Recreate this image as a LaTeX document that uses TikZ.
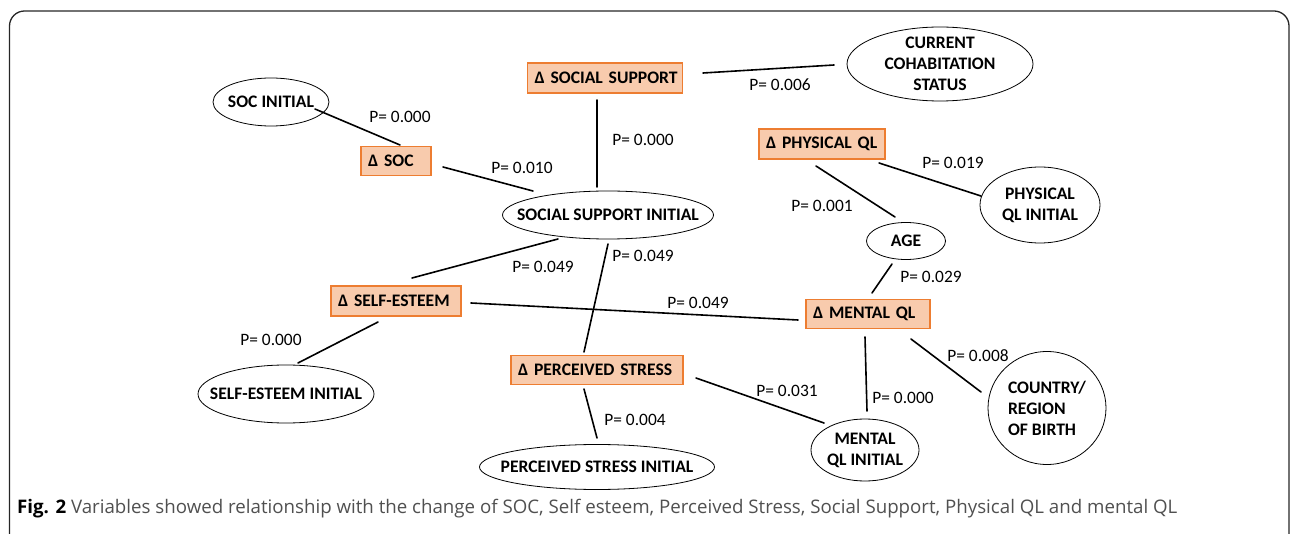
\documentclass[tikz,border=0pt]{standalone}
\usepackage{fontspec}
\setmainfont{Carlito}
\newfontfamily\capfont{Open Sans}
\usetikzlibrary{shapes.geometric,calc}
\definecolor{boxfill}{HTML}{F8CBAD}
\definecolor{boxline}{HTML}{ED7D31}
\definecolor{capgray}{HTML}{505050}
\tikzset{
  varbox/.style={draw=boxline, fill=boxfill, line width=1.6pt, inner xsep=7pt, inner ysep=0pt,
     minimum height=#1, font=\fontsize{17.6}{21}\selectfont\bfseries, anchor=center, align=left},
  varell/.style={ellipse, draw, line width=0.8pt, inner xsep=-40pt, inner ysep=-15pt, align=center,
     font=\fontsize{17.6}{21}\selectfont\bfseries},
  link/.style={line width=1.6pt, line cap=round},
  plab/.style={font=\fontsize{17.4}{21}\selectfont, inner sep=0pt}
}
\begin{document}
\begin{tikzpicture}[x=1pt,y=-1pt]
\useasboundingbox (0,0) rectangle (1290,534);
\begin{scope}
\clip (0,0) rectangle (1290,534);
\draw[line width=1.3pt, color=black!85] (9.5,11) [rounded corners=15pt] rectangle (1289,560);
\end{scope}
% rectangular variables
\node[varbox=29pt, text width=56pt] (dsoc) at (396,161) {\mbox{Δ SOC}};
\node[varbox=30pt, text width=141pt] (dss) at (605,78) {\mbox{Δ SOCIAL SUPPORT}};
\node[varbox=30pt, text width=112pt] (dpql) at (822,144) {\mbox{Δ PHYSICAL QL}};
\node[varbox=30pt, text width=116pt] (dse) at (396,301) {\mbox{Δ SELF-ESTEEM}};
\node[varbox=29pt, text width=110pt] (dmql) at (868,314) {\mbox{Δ MENTAL QL}};
\node[varbox=29pt, text width=158pt] (dps) at (597,370) {\mbox{Δ PERCEIVED STRESS}};
% elliptical variables
\node[varell, minimum width=116pt, minimum height=48pt] (soci) at (271,102) {SOC INITIAL};
\node[varell, minimum width=186pt, minimum height=74pt] (cohab) at (940,64) {CURRENT\\COHABITATION\\STATUS};
\node[varell, minimum width=120pt, minimum height=76pt] (pqli) at (1040,205) {PHYSICAL\\QL INITIAL};
\node[varell, minimum width=79pt, minimum height=37pt] (age) at (906,241) {AGE};
\node[varell, minimum width=211pt, minimum height=48pt] (ssi) at (608,215) {SOCIAL SUPPORT INITIAL};
\node[varell, minimum width=176pt, minimum height=58pt] (sei) at (286,394) {SELF-ESTEEM INITIAL};
\node[varell, minimum width=235pt, minimum height=45pt] (psi) at (597,467) {PERCEIVED STRESS INITIAL};
\node[varell, minimum width=108pt, minimum height=62pt] (mqli) at (865,450) {MENTAL\\QL INITIAL};
\node[varell, minimum width=118pt, minimum height=113pt, align=left] (country) at (1047,408) {COUNTRY/\\REGION\\OF BIRTH};
% connectors
\draw[link] ($(soci)+(44,7)$) -- ($(dsoc)+(4,-16)$);
\draw[link] ($(dsoc)+(47,6)$) -- ($(ssi)+(-75,-24)$);
\draw[link] ($(dss)+(-8,22)$) -- ($(ssi)+(-11,-28)$);
\draw[link] ($(dss)+(98,-5)$) -- ($(cohab)+(-106,1)$);
\draw[link] ($(dpql)+(-6,22)$) -- ($(age)+(-11,-24)$);
\draw[link] ($(dpql)+(57,19)$) -- ($(pqli)+(-59,-9)$);
\draw[link] ($(age)+(-14,23)$) -- ($(dmql)+(4,-21)$);
\draw[link] ($(ssi)+(-50,24)$) -- ($(dse)+(16,-23)$);
\draw[link] ($(ssi)+(0,29)$) -- ($(dps)+(-13,-18)$);
\draw[link] ($(dse)+(75,2)$) -- ($(dmql)+(-70,6)$);
\draw[link] ($(dse)+(-18,21)$) -- ($(sei)+(12,-31)$);
\draw[link] ($(dps)+(-13,19)$) -- ($(psi)+(0,-29)$);
\draw[link] ($(dps)+(99,8)$) -- ($(mqli)+(-41,-27)$);
\draw[link] ($(dmql)+(-3,23)$) -- ($(mqli)+(2,-39)$);
\draw[link] ($(dmql)+(43,25)$) -- ($(country)+(-66,-16)$);
% p-value labels
\node[plab] (l1) at (400,117) {P= 0.000};
\node[plab] (l2) at (522,168) {P= 0.010};
\node[plab] (l3) at (643,140) {P= 0.000};
\node[plab] (l4) at (780,85) {P= 0.006};
\node[plab] (l5) at (822,206) {P= 0.001};
\node[plab] (l6) at (953,163) {P= 0.019};
\node[plab] (l7) at (931,277) {P= 0.029};
\node[plab] (l8) at (543,267) {P= 0.049};
\node[plab] (l9) at (643,256) {P= 0.049};
\node[plab] (l10) at (698,303) {P= 0.049};
\node[plab] (l11) at (271,340) {P= 0.000};
\node[plab] (l12) at (635,420) {P= 0.004};
\node[plab] (l13) at (787,391) {P= 0.031};
\node[plab] (l14) at (903,398) {P= 0.000};
\node[plab] (l15) at (978,356) {P= 0.008};
% caption
\node[anchor=base west, inner sep=0pt, font=\capfont\fontsize{18.7}{22}\selectfont, text=capgray] (cap) at (17,513)
  {\textcolor{black}{\bfseries Fig. 2} Variables showed relationship with the change of SOC, Self esteem, Perceived Stress, Social Support, Physical QL and mental QL};
\end{tikzpicture}
\end{document}
